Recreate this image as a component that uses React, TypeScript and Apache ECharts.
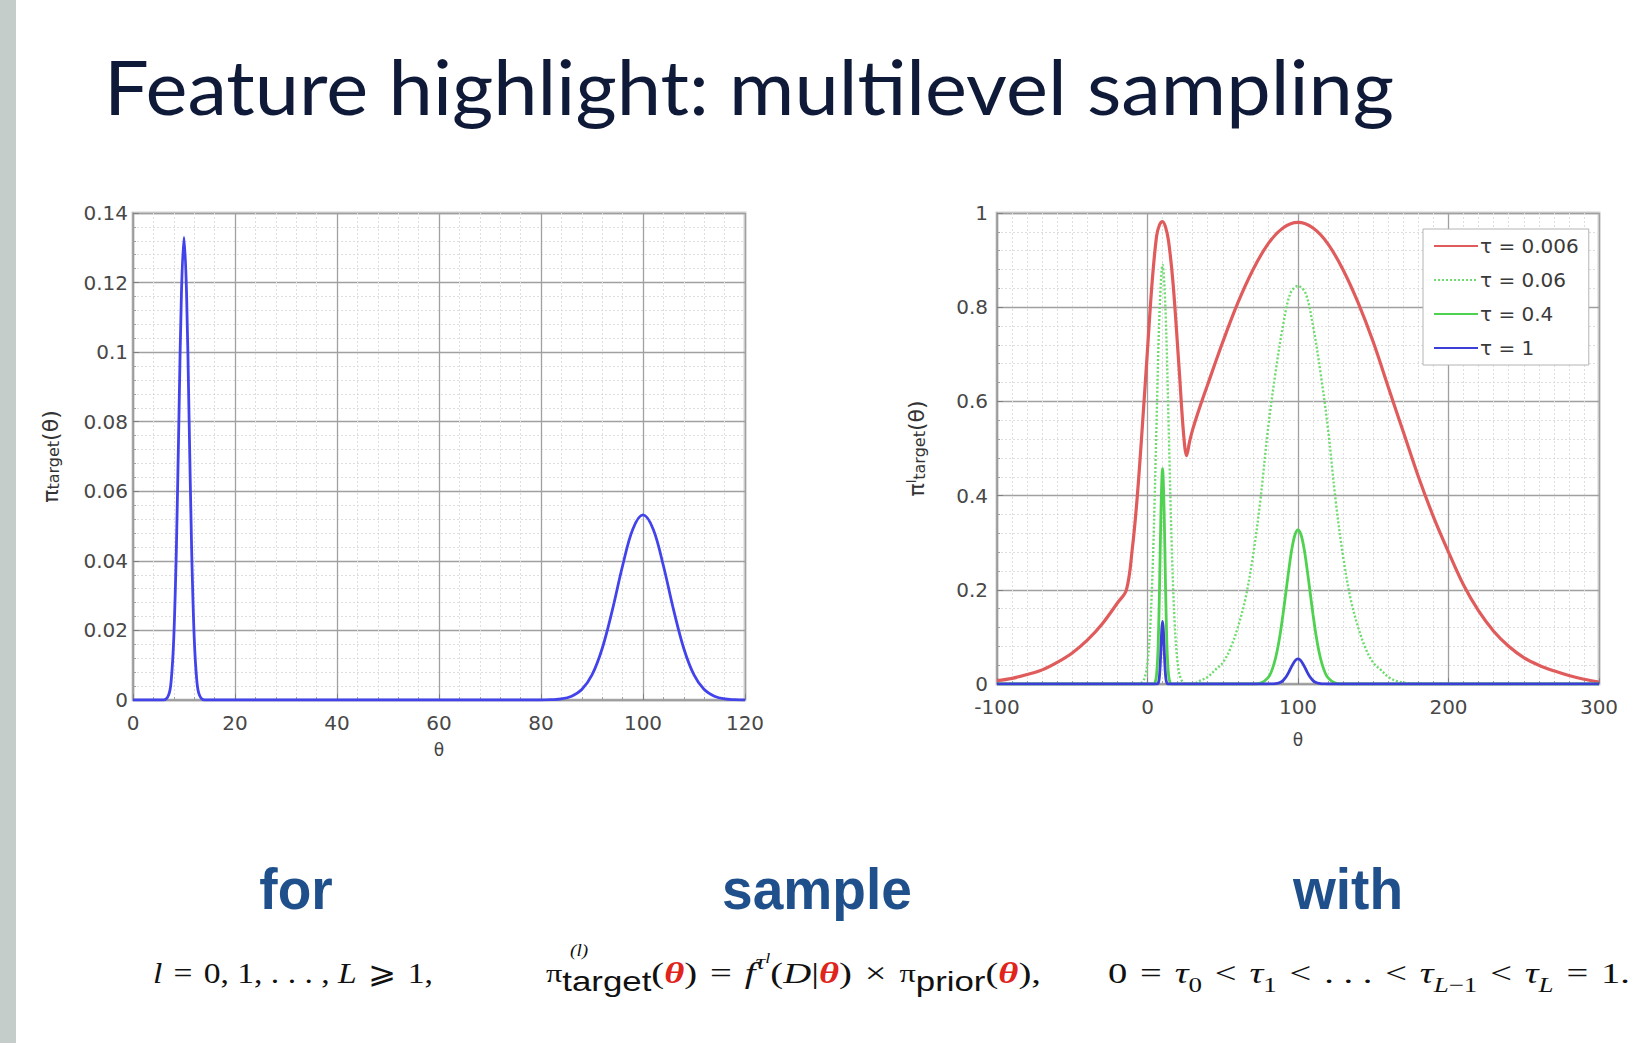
import React, { useEffect, useRef } from "react";
import * as echarts from "echarts";

// ---------- texts ----------
const titleText = "Feature highlight: multilevel sampling";
const stepWords = ["for", "sample", "with"];
const legendNames = ["τ = 0.006", "τ = 0.06", "τ = 0.4", "τ = 1"];

// ---------- axis ranges ----------
const leftX = { min: 0, max: 120, interval: 20 };
const leftY = { min: 0, max: 0.14, interval: 0.02 };
const rightX = { min: -100, max: 300, interval: 100 };
const rightY = { min: 0, max: 1, interval: 0.2 };

// ---------- data: target density (tau = 1), left chart ----------
const targetTheta = [0, 6, 7, 7.5, 8, 8.5, 9, 9.5, 10, 10.5, 11, 11.5, 12, 12.5, 13, 14, 80, 82, 84, 86, 88, 90, 92, 94, 96, 98, 100, 102, 104, 106, 108, 110, 112, 114, 116, 118, 120];
const targetDensity = [0, 0, 0.0015, 0.0058, 0.018, 0.0432, 0.0807, 0.117, 0.133, 0.117, 0.0807, 0.0432, 0.018, 0.0058, 0.0015, 0, 0, 0.0001, 0.0003, 0.0011, 0.003, 0.0072, 0.0148, 0.0259, 0.0386, 0.0491, 0.0532, 0.0491, 0.0386, 0.0259, 0.0148, 0.0072, 0.003, 0.0011, 0.0003, 0.0001, 0];

// ---------- data: tempered targets, right chart ----------
const tau0006Theta = [-100, -90, -80, -70, -60, -50, -40, -30, -20, -14, -10, -7, -4, 0, 3, 6, 8, 10, 12, 14, 17, 21, 24, 26, 28, 30, 35, 40, 50, 60, 70, 80, 90, 100, 110, 120, 130, 140, 150, 160, 170, 180, 190, 200, 210, 220, 230, 240, 250, 260, 270, 280, 290, 300];
const tau0006Values = [0.007, 0.012, 0.02, 0.03, 0.046, 0.066, 0.093, 0.128, 0.172, 0.2, 0.29, 0.39, 0.52, 0.71, 0.85, 0.95, 0.975, 0.982, 0.97, 0.94, 0.85, 0.67, 0.53, 0.485, 0.515, 0.54, 0.59, 0.636, 0.726, 0.809, 0.879, 0.934, 0.968, 0.98, 0.968, 0.934, 0.879, 0.809, 0.726, 0.63, 0.535, 0.44, 0.355, 0.28, 0.21, 0.155, 0.112, 0.08, 0.056, 0.04, 0.028, 0.018, 0.01, 0.004];

const tau006Theta = [-100, -6, -4, -2, 0, 2, 4, 6, 8, 10, 12, 14, 16, 18, 20, 22, 24, 26, 30, 35, 40, 45, 50, 55, 60, 65, 70, 75, 80, 85, 90, 95, 100, 105, 110, 115, 120, 125, 130, 135, 140, 145, 150, 155, 160, 165, 170, 180, 300];
const tau006Values = [0, 0, 0.003, 0.012, 0.045, 0.132, 0.305, 0.553, 0.79, 0.89, 0.79, 0.553, 0.305, 0.132, 0.045, 0.012, 0.003, 0, 0, 0.007, 0.015, 0.03, 0.045, 0.075, 0.12, 0.18, 0.27, 0.39, 0.54, 0.66, 0.76, 0.83, 0.845, 0.83, 0.76, 0.66, 0.54, 0.39, 0.27, 0.18, 0.12, 0.075, 0.045, 0.03, 0.015, 0.007, 0.003, 0, 0];

const tau04Theta = [-100, 4, 5, 6, 7, 8, 9, 10, 11, 12, 13, 14, 15, 16, 72, 76, 80, 82, 84, 86, 88, 90, 92, 94, 96, 98, 100, 102, 104, 106, 108, 110, 112, 114, 116, 118, 120, 124, 128, 300];
const tau04Values = [0, 0, 0.003, 0.019, 0.075, 0.205, 0.374, 0.457, 0.374, 0.205, 0.075, 0.019, 0.003, 0, 0, 0.003, 0.013, 0.024, 0.042, 0.068, 0.103, 0.147, 0.196, 0.245, 0.288, 0.317, 0.327, 0.317, 0.288, 0.245, 0.196, 0.147, 0.103, 0.068, 0.042, 0.024, 0.013, 0.003, 0, 0];

const pairs = (xs: number[], ys: number[]) => xs.map((x, i) => [x, ys[i]]);
const tau1Data = [[-100, 0], ...pairs(targetTheta, targetDensity), [300, 0]];

const SERIF = '"Liberation Serif", "DejaVu Serif", serif';
const SANS = '"DejaVu Sans", "Liberation Sans", sans-serif';
const ARIAL = '"Liberation Sans", Arial, sans-serif';
const S4 = "\u2004";

function axisCommon(minor: number) {
  return {
    axisLine: { show: true, onZero: false, lineStyle: { color: "#9a9a9a", width: 1.5 } },
    axisTick: { show: true, inside: true, length: 6, lineStyle: { color: "#808080" } },
    minorTick: { show: true, splitNumber: minor, length: 3, lineStyle: { color: "#a0a0a0" } },
    splitLine: { show: true, lineStyle: { color: "#a0a0a0", width: 1.3 } },
    minorSplitLine: { show: true, lineStyle: { color: "#dedede", width: 1, type: [2, 2] } },
  };
}
const labelStyle = (margin: number) => ({ color: "#484848", fontSize: 20, fontFamily: SANS, margin });

const yNameRich = {
  p: { fontSize: 22, fontFamily: SANS, color: "#333" },
  s: { fontSize: 16, fontFamily: SANS, color: "#333", verticalAlign: "bottom", lineHeight: 14 },
  u: { fontSize: 13, fontFamily: SANS, color: "#333", verticalAlign: "top", lineHeight: 12 },
};

const formulaRich = {
  r: { fontSize: 30, fontFamily: SERIF, fill: "#111", lineHeight: 44 },
  i: { fontSize: 30, fontFamily: SERIF, fontStyle: "italic", fill: "#111", lineHeight: 44 },
  pi: { fontSize: 25, fontFamily: SERIF, fill: "#111", lineHeight: 44 },
  th: { fontSize: 30, fontFamily: SERIF, fontStyle: "italic", fontWeight: "bold", fill: "#e0241c", lineHeight: 44 },
  sub: { fontSize: 27, fontFamily: ARIAL, fill: "#111", lineHeight: 24, verticalAlign: "bottom" },
  s: { fontSize: 21, fontFamily: SERIF, fill: "#111", lineHeight: 20, verticalAlign: "bottom" },
  si: { fontSize: 21, fontFamily: SERIF, fontStyle: "italic", fill: "#111", lineHeight: 20, verticalAlign: "bottom" },
  sup: { fontSize: 21, fontFamily: SERIF, fontStyle: "italic", fill: "#111", lineHeight: 18, verticalAlign: "top" },
  supl: { fontSize: 14, fontFamily: SERIF, fontStyle: "italic", fill: "#111", lineHeight: 26, verticalAlign: "top" },
};

const formula1 = `{i|l}{r|${S4}=${S4}0, 1, . . . , }{i|L}{r|${S4}⩾${S4}1,}`;
const formula2 = `{pi|π}{sub|target}{r|(}{th|θ}{r|)${S4}=${S4}}{i|f}{sup|τ}{supl|l}{r|(}{i|D}{r||}{th|θ}{r|)${S4}×${S4}}{pi|π}{sub|prior}{r|(}{th|θ}{r|),}`;
const formula3 = `{r|0${S4}=${S4}}{i|τ}{s|0}{r|${S4}<${S4}}{i|τ}{s|1}{r|${S4}<${S4}. . .${S4}<${S4}}{i|τ}{si|L}{s|−1}{r|${S4}<${S4}}{i|τ}{si|L}{r|${S4}=${S4}1.}`;

function makeLine(name: string, x: number, data: number[][], color: string, width: number, type: any = "solid") {
  return {
    name, type: "line", xAxisIndex: x, yAxisIndex: x, data,
    symbol: "none", smooth: 0.35,
    itemStyle: { color }, lineStyle: { color, width, type },
  };
}

export default function App() {
  const ref = useRef<HTMLDivElement>(null);
  useEffect(() => {
    const chart = echarts.init(ref.current!, null, { renderer: "svg" });
    const option: any = {
      animation: false,
      backgroundColor: "#ffffff",
      grid: [
        { left: 133, top: 213, width: 612, height: 487, show: true, borderColor: "#d2d2d2", borderWidth: 3, backgroundColor: "#fff" },
        { left: 997, top: 213, width: 602, height: 471, show: true, borderColor: "#d2d2d2", borderWidth: 3, backgroundColor: "#fff" },
      ],
      xAxis: [
        {
          type: "value", gridIndex: 0, ...leftX, ...axisCommon(5), axisLabel: labelStyle(13),
          name: "θ", nameLocation: "middle", nameGap: 41,
          nameTextStyle: { fontSize: 17, fontFamily: SANS, color: "#444" },
        },
        {
          type: "value", gridIndex: 1, ...rightX, ...axisCommon(10), axisLabel: labelStyle(13),
          name: "θ", nameLocation: "middle", nameGap: 47,
          nameTextStyle: { fontSize: 17, fontFamily: SANS, color: "#444" },
        },
      ],
      yAxis: [
        {
          type: "value", gridIndex: 0, ...leftY, ...axisCommon(5), axisLabel: labelStyle(5),
          name: "{p|π}{s|target}{p|(θ)}", nameLocation: "middle", nameGap: 72, nameRotate: 90,
          nameTextStyle: { rich: yNameRich },
        },
        {
          type: "value", gridIndex: 1, ...rightY, ...axisCommon(5), axisLabel: labelStyle(9),
          name: "{p|π}{u|l}{s|target}{p|(θ)}", nameLocation: "middle", nameGap: 70, nameRotate: 90,
          nameTextStyle: { rich: yNameRich },
        },
      ],
      legend: {
        data: legendNames,
        orient: "vertical",
        left: 1423,
        top: 229,
        backgroundColor: "#fff",
        borderColor: "#b4b4b4",
        borderWidth: 1,
        borderRadius: 0,
        padding: [7, 10, 7, 10],
        itemWidth: 44,
        itemHeight: 20,
        itemGap: 14,
        itemStyle: { opacity: 0 },
        textStyle: { fontSize: 20, fontFamily: SANS, color: "#3a3a3a", padding: [0, 0, 0, -3] },
      },
      series: [
        makeLine("target", 0, pairs(targetTheta, targetDensity), "#4343ec", 2.8),
        makeLine(legendNames[0], 1, pairs(tau0006Theta, tau0006Values), "#e05c5c", 3.2),
        makeLine(legendNames[1], 1, pairs(tau006Theta, tau006Values), "#6ddc6d", 2.4, [2, 2]),
        makeLine(legendNames[2], 1, pairs(tau04Theta, tau04Values), "#4fd24f", 2.8),
        makeLine(legendNames[3], 1, tau1Data, "#3b3fd8", 2.8),
      ],
      graphic: [
        { type: "rect", shape: { x: 0, y: 0, width: 16, height: 1043 }, style: { fill: "#c4cdc9" }, silent: true },
        {
          type: "text", x: 104, y: 86, scaleX: 1.045,
          style: { text: titleText, fontSize: 76, fontFamily: "Lato, 'Open Sans', sans-serif", fill: "#0f1a38", align: "left", verticalAlign: "middle" },
        },
        ...stepWords.map((w, i) => ({
          type: "text", x: [296, 817, 1348][i], y: 889, scaleX: 0.95,
          style: { text: w, fontSize: 58, fontWeight: "bold", fontFamily: ARIAL, fill: "#20508c", align: "center", verticalAlign: "middle" },
        })),
        {
          type: "text", x: 153, y: 973, scaleX: 1.12,
          style: { text: formula1, rich: formulaRich, align: "left", verticalAlign: "middle" },
        },
        {
          type: "text", x: 546, y: 973, scaleX: 1.29,
          style: { text: formula2, rich: formulaRich, align: "left", verticalAlign: "middle" },
        },
        {
          type: "text", x: 570, y: 951, scaleX: 1.2,
          style: { text: "(l)", fontSize: 16, fontFamily: SERIF, fontStyle: "italic", fill: "#111", align: "left", verticalAlign: "middle" },
        },
        {
          type: "text", x: 1108, y: 973, scaleX: 1.285,
          style: { text: formula3, rich: formulaRich, align: "left", verticalAlign: "middle" },
        },
      ],
    };
    chart.setOption(option);
    return () => chart.dispose();
  }, []);
  return (
    <div
      ref={ref}
      style={{ position: "absolute", left: 0, top: 0, width: 1632, height: 1043, background: "#fff" }}
    />
  );
}
